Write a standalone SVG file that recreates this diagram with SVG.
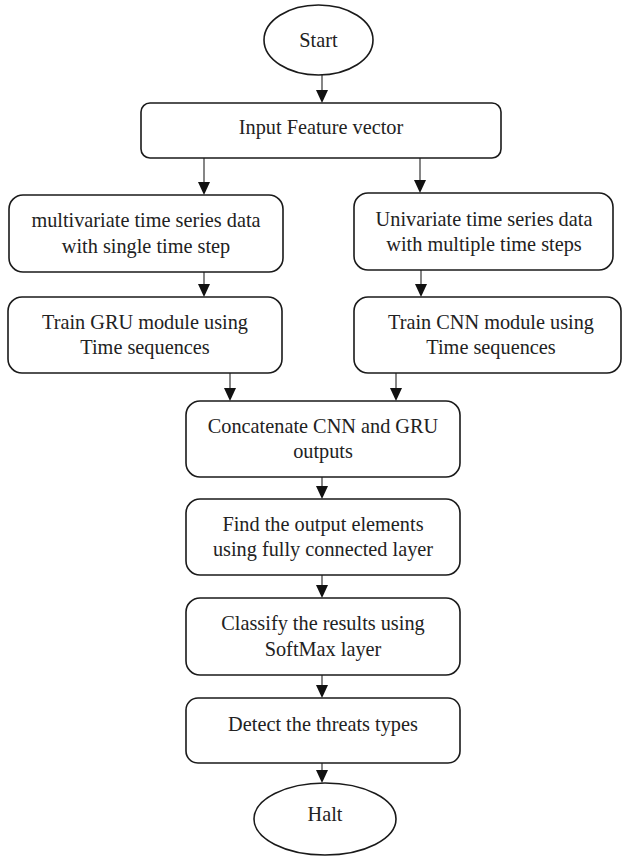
<svg xmlns="http://www.w3.org/2000/svg" width="623" height="856" viewBox="0 0 623 856">
<style>
.box{fill:#fff;stroke:#1a1a1a;stroke-width:1.6}
.t{font-family:'Liberation Serif','Times New Roman',serif;font-size:20.3px;fill:#222;text-anchor:middle}
.c{stroke:#222;stroke-width:1.1;fill:none}
.h{fill:#111}
</style>
<rect width="623" height="856" fill="#fff"/>
<g id="connectors">
<line class="c" x1="322" y1="75" x2="322" y2="92"/>
<path class="h" d="M316,90 L328,90 L322,103 Z"/>
<line class="c" x1="204" y1="158" x2="204" y2="184"/>
<path class="h" d="M198,182 L210,182 L204,195 Z"/>
<line class="c" x1="420" y1="158" x2="420" y2="182"/>
<path class="h" d="M414,180 L426,180 L420,193 Z"/>
<line class="c" x1="204" y1="272" x2="204" y2="286"/>
<path class="h" d="M198,284 L210,284 L204,297 Z"/>
<line class="c" x1="421" y1="270" x2="421" y2="286"/>
<path class="h" d="M415,284 L427,284 L421,297 Z"/>
<line class="c" x1="230" y1="373" x2="230" y2="390"/>
<path class="h" d="M224,388 L236,388 L230,401 Z"/>
<line class="c" x1="396" y1="373" x2="396" y2="390"/>
<path class="h" d="M390,388 L402,388 L396,401 Z"/>
<line class="c" x1="322" y1="477" x2="322" y2="488"/>
<path class="h" d="M316,486 L328,486 L322,499 Z"/>
<line class="c" x1="322" y1="575" x2="322" y2="587"/>
<path class="h" d="M316,585 L328,585 L322,598 Z"/>
<line class="c" x1="322" y1="675" x2="322" y2="687"/>
<path class="h" d="M316,685 L328,685 L322,698 Z"/>
<line class="c" x1="322" y1="763" x2="322" y2="772"/>
<path class="h" d="M316,770 L328,770 L322,783 Z"/>
</g>
<g id="start">
<ellipse class="box" cx="318.5" cy="40" rx="54.5" ry="35"/>
<text class="t" x="318.5" y="47">Start</text>
</g>
<g id="input">
<rect class="box" x="141" y="103" width="360" height="55" rx="9"/>
<text class="t" x="321" y="134">Input Feature vector</text>
</g>
<g id="multivariate">
<rect class="box" x="9" y="195" width="274" height="77" rx="14"/>
<text class="t" x="146" y="227">multivariate time series data</text>
<text class="t" x="146" y="253">with single time step</text>
</g>
<g id="univariate">
<rect class="box" x="354" y="193" width="259" height="77" rx="14"/>
<text class="t" x="484" y="226">Univariate time series data</text>
<text class="t" x="484" y="251">with multiple time steps</text>
</g>
<g id="gru">
<rect class="box" x="8" y="297" width="274" height="76" rx="14"/>
<text class="t" x="145" y="329">Train GRU module using</text>
<text class="t" x="145" y="354">Time sequences</text>
</g>
<g id="cnn">
<rect class="box" x="354" y="297" width="267" height="76" rx="14"/>
<text class="t" x="491" y="329">Train CNN module using</text>
<text class="t" x="491" y="354">Time sequences</text>
</g>
<g id="concat">
<rect class="box" x="186" y="401" width="274" height="76" rx="14"/>
<text class="t" x="323" y="433">Concatenate CNN and GRU</text>
<text class="t" x="323" y="458">outputs</text>
</g>
<g id="find">
<rect class="box" x="186" y="499" width="274" height="76" rx="14"/>
<text class="t" x="323" y="531">Find the output elements</text>
<text class="t" x="323" y="556">using fully connected layer</text>
</g>
<g id="classify">
<rect class="box" x="186" y="598" width="274" height="77" rx="14"/>
<text class="t" x="323" y="630">Classify the results using</text>
<text class="t" x="323" y="656">SoftMax layer</text>
</g>
<g id="detect">
<rect class="box" x="186" y="698" width="274" height="65" rx="12"/>
<text class="t" x="323" y="731">Detect the threats types</text>
</g>
<g id="halt">
<ellipse class="box" cx="325" cy="819" rx="71" ry="36"/>
<text class="t" x="325" y="821">Halt</text>
</g>
</svg>
